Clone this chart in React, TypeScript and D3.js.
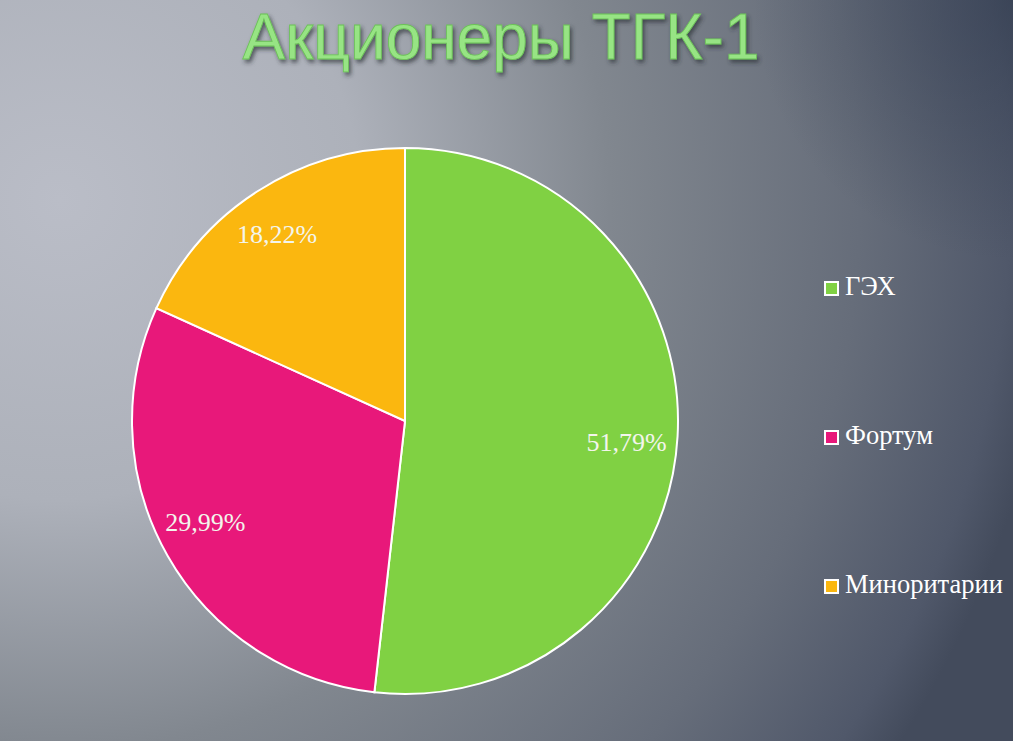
import React from "react";
import * as d3 from "d3";

const title = "Акционеры ТГК-1";
const categories = ["ГЭХ", "Фортум", "Миноритарии"];
const values = [51.79, 29.99, 18.22];
const labels = ["51,79%", "29,99%", "18,22%"];
const colors = ["#80d143", "#e8187a", "#fbb70f"];

const W = 1013;
const H = 741;

export default function App() {
  const cx = 405;
  const cy = 421;
  const R = 273;
  const pie = d3.pie<number>().sort(null).value((d) => d)(values);
  const arc = d3.arc<d3.PieArcDatum<number>>().innerRadius(0).outerRadius(R);
  const labelArc = d3.arc<d3.PieArcDatum<number>>().innerRadius(225).outerRadius(225);
  const legendY = d3.scalePoint<string>().domain(categories).range([291, 589]);
  const labelDx = [-3, -4, -6];
  const labelDy = [17, -1, 11];

  return (
    <svg width={W} height={H} style={{ position: "absolute", left: 0, top: 0, display: "block" }}>
      <defs>
        <radialGradient id="bg" cx="60" cy="200" r="1000" gradientUnits="userSpaceOnUse">
          <stop offset="0" stopColor="#babdc7" />
          <stop offset="0.3" stopColor="#adb1ba" />
          <stop offset="0.55" stopColor="#81878f" />
          <stop offset="0.8" stopColor="#666d7a" />
          <stop offset="0.95" stopColor="#50586a" />
          <stop offset="1" stopColor="#434b5c" />
        </radialGradient>
        <radialGradient id="vig" cx="1013" cy="0" r="260" gradientUnits="userSpaceOnUse">
          <stop offset="0" stopColor="#2f3a4e" stopOpacity="0.55" />
          <stop offset="1" stopColor="#2f3a4e" stopOpacity="0" />
        </radialGradient>
        <filter id="ts" x="-10%" y="-30%" width="120%" height="160%">
          <feDropShadow dx="2" dy="3" stdDeviation="2" floodColor="#2a2e36" floodOpacity="0.7" />
        </filter>
      </defs>
      <rect x={0} y={0} width={W} height={H} fill="url(#bg)" />
      <rect x={0} y={0} width={W} height={H} fill="url(#vig)" />
      <text
        x={501}
        y={59}
        textAnchor="middle"
        fontFamily="'Liberation Sans', Arial, sans-serif"
        fontSize={64}
        fill="#97e484"
        stroke="#6cc258"
        strokeWidth={0.8}
        filter="url(#ts)"
      >
        {title}
      </text>
      <g transform={`translate(${cx},${cy})`}>
        {pie.map((p, i) => (
          <path key={i} d={arc(p) || ""} fill={colors[i]} stroke="#ffffff" strokeWidth={2} />
        ))}
        {pie.map((p, i) => {
          const [lx, ly] = labelArc.centroid(p);
          return (
            <text
              key={"l" + i}
              x={lx + labelDx[i]}
              y={ly + labelDy[i]}
              textAnchor="middle"
              fontFamily="'Liberation Serif', 'Times New Roman', serif"
              fontSize={26}
              fill="#f3f5ec"
            >
              {labels[i]}
            </text>
          );
        })}
      </g>
      {categories.map((c, i) => (
        <g key={c} transform={`translate(825,${legendY(c)})`}>
          <rect x={0} y={-9} width={13} height={13} fill={colors[i]} stroke="#ffffff" strokeWidth={2} />
          <text
            x={20}
            y={4}
            fontFamily="'Liberation Serif', 'Times New Roman', serif"
            fontSize={26.5}
            fill="#ffffff"
          >
            {c}
          </text>
        </g>
      ))}
    </svg>
  );
}
